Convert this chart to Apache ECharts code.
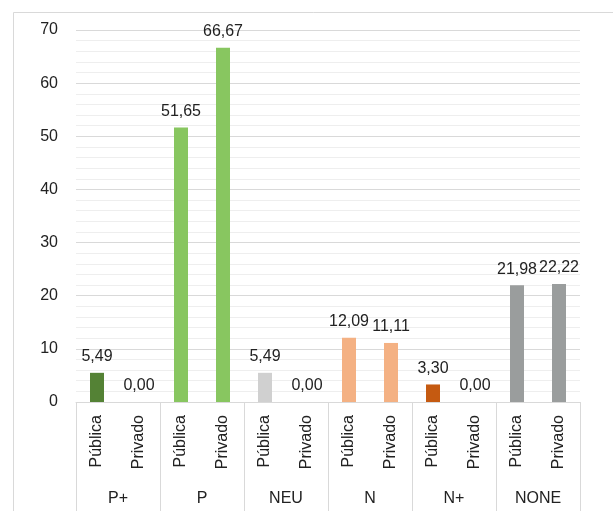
<!DOCTYPE html>
<html>
<head>
<meta charset="utf-8">
<script src="https://cdn.jsdelivr.net/npm/echarts@6/dist/echarts.min.js"></script>
<style>
  body { margin: 0; background: #fff; }
  #chart { width: 613px; height: 511px; }
</style>
</head>
<body>
<div id="chart"></div>
<script>
// grupos y subcategorías del eje X
const groups = ["P+", "P", "NEU", "N", "N+", "NONE"];
const subCats = ["Pública", "Privado"];
const groupColors = ["#548235", "#88C660", "#D0D0D0", "#F4B183", "#C55A11", "#9A9D9D"];

// valores (%), Pública / Privado por grupo
const publicaVals = [5.49, 51.65, 5.49, 12.09, 3.30, 21.98];
const privadoVals = [0.00, 66.67, 0.00, 11.11, 0.00, 22.22];

const yTicks = [0, 10, 20, 30, 40, 50, 60, 70];

const font = "Liberation Sans";
const textColor = "#222";

// categorías planas y datos de barras
const flatCats = [];
const barData = [];
groups.forEach((g, i) => {
  flatCats.push(subCats[0], subCats[1]);
  barData.push({ value: publicaVals[i], itemStyle: { color: groupColors[i] } });
  barData.push({ value: privadoVals[i], itemStyle: { color: groupColors[i] } });
});

const chart = echarts.init(document.getElementById("chart"));
chart.setOption({
  animation: false,
  backgroundColor: "#fff",
  textStyle: { fontFamily: font },
  graphic: [
    {
      type: "rect",
      left: 11, top: 10,
      shape: { width: 700, height: 600 },
      style: { fill: "none", stroke: "#d9d9d9", lineWidth: 1 },
      silent: true
    }
  ],
  grid: { left: 76, right: 33, top: 30, bottom: 109 },
  xAxis: [
    {
      type: "category",
      data: flatCats,
      axisLine: { lineStyle: { color: "#d9d9d9" } },
      axisTick: { show: false },
      axisLabel: {
        rotate: 90, margin: 13, fontSize: 16, color: textColor, fontFamily: font,
        interval: 0
      }
    },
    {
      type: "category",
      data: groups,
      position: "bottom",
      gridIndex: 0,
      axisLine: { show: false },
      axisTick: { show: true, length: 110, lineStyle: { color: "#d9d9d9" } },
      axisLabel: { margin: 89, fontSize: 16, color: textColor, fontFamily: font, interval: 0 },
      splitLine: { show: false }
    }
  ],
  yAxis: {
    type: "value",
    min: yTicks[0],
    max: yTicks[yTicks.length - 1],
    interval: 10,
    axisLine: { show: false },
    axisTick: { show: false },
    axisLabel: { margin: 18, fontSize: 16, color: textColor, fontFamily: font },
    splitLine: { lineStyle: { color: "#d9d9d9" } },
    minorTick: { show: false, splitNumber: 5 },
    minorSplitLine: { show: true, lineStyle: { color: "#eeeeee" } }
  },
  series: [
    {
      type: "bar",
      xAxisIndex: 0,
      data: barData,
      barWidth: 14,
      label: {
        show: true,
        position: "top",
        distance: 8,
        fontSize: 16,
        color: textColor,
        fontFamily: font,
        formatter: p => p.value.toFixed(2).replace(".", ",")
      }
    }
  ]
});
</script>
</body>
</html>
